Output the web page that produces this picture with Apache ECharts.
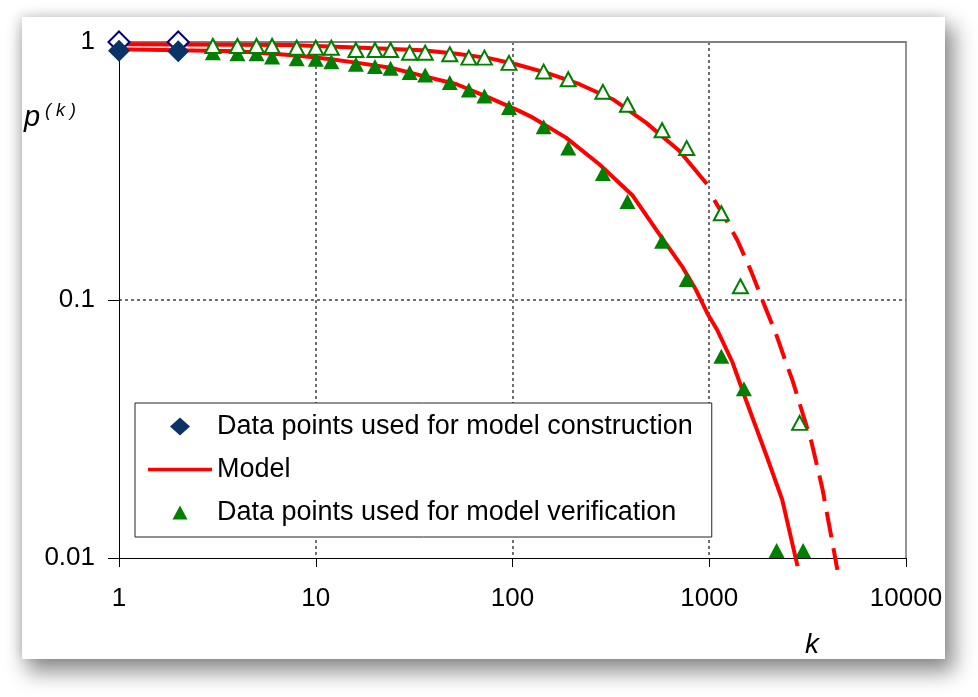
<!DOCTYPE html>
<html>
<head>
<meta charset="utf-8">
<script src="https://cdn.jsdelivr.net/npm/echarts@6/dist/echarts.min.js"></script>
<style>
  html, body { margin: 0; padding: 0; background: #fff; }
  #card {
    position: absolute; left: 22px; top: 17px; width: 923px; height: 642px;
    background: #fff;
    box-shadow: 7px 11px 20px 2px rgba(0,0,0,0.45), -3px -2px 10px rgba(0,0,0,0.12);
  }
  #main { position: absolute; left: 0; top: 0; width: 978px; height: 697px; }
</style>
</head>
<body>
<div id="card"></div>
<div id="main"></div>
<script>
const FONT = '"Liberation Sans", Arial, sans-serif'
const NAME_C = 'Data points used for model construction'
const NAME_V = 'Data points used for model verification'

// axis tick labels
const xTickLabels = ['1', '10', '100', '1000', '10000']
const yTickLabels = ['0.01', '0.1', '1']

// construction points (k = 1, 2)
const kConstruction = [1, 2]
const pConstructionFilled = [0.925, 0.92]
const pConstructionOpen = [1.0, 1.0]

// verification points, filled triangles (lower set)
const kFilled = [3, 4, 5, 6, 8, 10, 12, 16, 20, 24, 30, 36, 48, 60, 72, 96, 144, 192, 288, 384, 576, 768, 1152, 1500, 2200, 3000]
const pFilled = [0.909, 0.901, 0.901, 0.875, 0.862, 0.857, 0.839, 0.82, 0.803, 0.791, 0.761, 0.745, 0.696, 0.652, 0.618, 0.557, 0.469, 0.388, 0.309, 0.241, 0.169, 0.12, 0.0605, 0.0453, 0.0107, 0.0107]

// verification points, open triangles (upper set)
const kOpen = [3, 4, 5, 6, 8, 10, 12, 16, 20, 24, 30, 36, 48, 60, 72, 96, 144, 192, 288, 384, 576, 768, 1152, 1440, 2880]
const pOpen = [0.965, 0.965, 0.965, 0.965, 0.95, 0.95, 0.95, 0.931, 0.931, 0.931, 0.909, 0.909, 0.896, 0.87, 0.87, 0.83, 0.768, 0.717, 0.641, 0.571, 0.455, 0.388, 0.217, 0.113, 0.0334]

// model, lower curve
const kModelLow = [1, 2, 4, 8, 12, 16, 24, 35, 52, 76, 108, 127, 187, 276, 408, 557, 732, 856, 980, 1100, 1310, 1540, 1940, 2350, 2810]
const pModelLow = [0.937, 0.928, 0.92, 0.886, 0.857, 0.832, 0.795, 0.739, 0.686, 0.609, 0.541, 0.509, 0.426, 0.336, 0.254, 0.18, 0.134, 0.1095, 0.0885, 0.0763, 0.0575, 0.0408, 0.0253, 0.0168, 0.0093]

// model, upper curve (solid part, then dashed part)
const kModelUp = [1, 2, 7.4, 16, 35, 52, 76, 104, 148, 219, 323, 477, 704, 973]
const pModelUp = [0.98, 0.979, 0.974, 0.952, 0.929, 0.901, 0.866, 0.82, 0.761, 0.686, 0.6, 0.487, 0.379, 0.2815]
const kModelUpDash = [1060, 1238, 1392, 1628, 1865, 2181, 2450, 2649, 3306, 3758, 4480]
const pModelUpDash = [0.244, 0.2, 0.17, 0.13, 0.0996, 0.0741, 0.0575, 0.0488, 0.0282, 0.0186, 0.009]

// legend icons drawn in a 64x18 box so they are not stretched
const ICON_DIAMOND = 'path://M0,0L0,0M32,0L42,9L32,18L22,9ZM64,18L64,18'
const ICON_LINE = 'path://M0,0L0,0M0,7.2L64,7.2L64,10.8L0,10.8ZM64,18L64,18'
const ICON_TRIANGLE = 'path://M0,0L0,0M32,2L39.5,16L24.5,16ZM64,18L64,18'

function pairs(ks, ps) {
  return ks.map((k, i) => [k, ps[i]])
}

var chart = echarts.init(document.getElementById('main'))
var option = {
  animation: false,
  legend: {
    orient: 'vertical',
    left: 135,
    top: 403,
    padding: [10, 19, 11, 13],
    itemWidth: 64,
    itemHeight: 18,
    itemGap: 16,
    backgroundColor: '#fff',
    borderColor: '#222',
    borderWidth: 1,
    selectedMode: false,
    textStyle: { fontFamily: FONT, fontSize: 27, color: '#000' },
    data: [
      { name: NAME_C, icon: ICON_DIAMOND },
      { name: 'Model', icon: ICON_LINE },
      { name: NAME_V, icon: ICON_TRIANGLE }
    ]
  },
  grid: { left: 119, right: 72, top: 42, bottom: 139 },
  xAxis: [
    {
      type: 'log', logBase: 10, min: 1, max: 10000, position: 'bottom',
      axisLine: { lineStyle: { color: '#000', width: 1 } },
      axisTick: { show: true, length: 9, lineStyle: { color: '#000' } },
      axisLabel: {
        margin: 28, color: '#000', fontFamily: FONT, fontSize: 26,
        formatter: v => xTickLabels[Math.round(Math.log10(v))]
      },
      splitLine: {
        show: true, showMinLine: false, showMaxLine: false,
        lineStyle: { color: '#404040', width: 1.5, type: [3, 3] }
      }
    },
    {
      type: 'log', logBase: 10, min: 1, max: 10000, position: 'top',
      axisLine: { lineStyle: { color: '#808080', width: 2 } },
      axisTick: { show: false }, axisLabel: { show: false }, splitLine: { show: false }
    }
  ],
  yAxis: [
    {
      type: 'log', logBase: 10, min: 0.01, max: 1, position: 'left',
      axisLine: { show: true, lineStyle: { color: '#000', width: 1 } },
      axisTick: { show: true, length: 11, lineStyle: { color: '#000' } },
      axisLabel: {
        margin: 24, color: '#000', fontFamily: FONT, fontSize: 26,
        formatter: v => yTickLabels[Math.round(Math.log10(v)) + 2]
      },
      splitLine: {
        show: true, showMinLine: false, showMaxLine: false,
        lineStyle: { color: '#404040', width: 1.5, type: [3, 3] }
      }
    },
    {
      type: 'log', logBase: 10, min: 0.01, max: 1, position: 'right',
      axisLine: { show: true, lineStyle: { color: '#707070', width: 1.5 } },
      axisTick: { show: false }, axisLabel: { show: false }, splitLine: { show: false }
    }
  ],
  graphic: [
    { type: 'text', style: { x: 812, y: 645, text: 'k', fill: '#000', font: 'italic 28px "Liberation Sans", Arial', textAlign: 'center', textVerticalAlign: 'middle' } },
    { type: 'text', style: { x: 24, y: 118, text: 'p', fill: '#000', font: 'italic 29px "Liberation Sans", Arial', textAlign: 'left', textVerticalAlign: 'middle' } },
    { type: 'text', style: { x: 45, y: 111, text: '( k )', fill: '#000', font: 'italic 18px "Liberation Sans", Arial', textAlign: 'left', textVerticalAlign: 'middle' } }
  ],
  series: [
    {
      name: 'Model', type: 'line', symbol: 'none', clip: false, z: 2,
      lineStyle: { color: '#ff0000', width: 4 }, itemStyle: { color: '#ff0000' },
      data: pairs(kModelLow, pModelLow)
    },
    {
      name: 'Model', type: 'line', symbol: 'none', clip: false, z: 2,
      lineStyle: { color: '#ff0000', width: 4 }, itemStyle: { color: '#ff0000' },
      data: pairs(kModelUp, pModelUp)
    },
    {
      name: 'Model', type: 'line', symbol: 'none', clip: false, z: 2,
      lineStyle: { color: '#ff0000', width: 4, type: [26, 11] }, itemStyle: { color: '#ff0000' },
      data: pairs(kModelUpDash, pModelUpDash)
    },
    {
      name: NAME_C, type: 'scatter', symbol: 'diamond', symbolSize: 22, z: 5,
      itemStyle: { color: '#0a3366', opacity: 1 },
      data: pairs(kConstruction, pConstructionFilled)
    },
    {
      name: NAME_C, type: 'scatter', symbol: 'diamond', symbolSize: 21, z: 4,
      itemStyle: { color: '#fff', borderColor: '#000080', borderWidth: 2, opacity: 1 },
      data: pairs(kConstruction, pConstructionOpen)
    },
    {
      name: NAME_V, type: 'scatter', symbol: 'triangle', symbolSize: [16, 15], z: 4,
      itemStyle: { color: '#008000', opacity: 1 },
      data: pairs(kFilled, pFilled)
    },
    {
      name: NAME_V, type: 'scatter', symbol: 'triangle', symbolSize: [15, 14], z: 4,
      itemStyle: { color: '#fff', borderColor: '#008000', borderWidth: 2, opacity: 1 },
      data: pairs(kOpen, pOpen)
    }
  ]
}
chart.setOption(option)
</script>
</body>
</html>
